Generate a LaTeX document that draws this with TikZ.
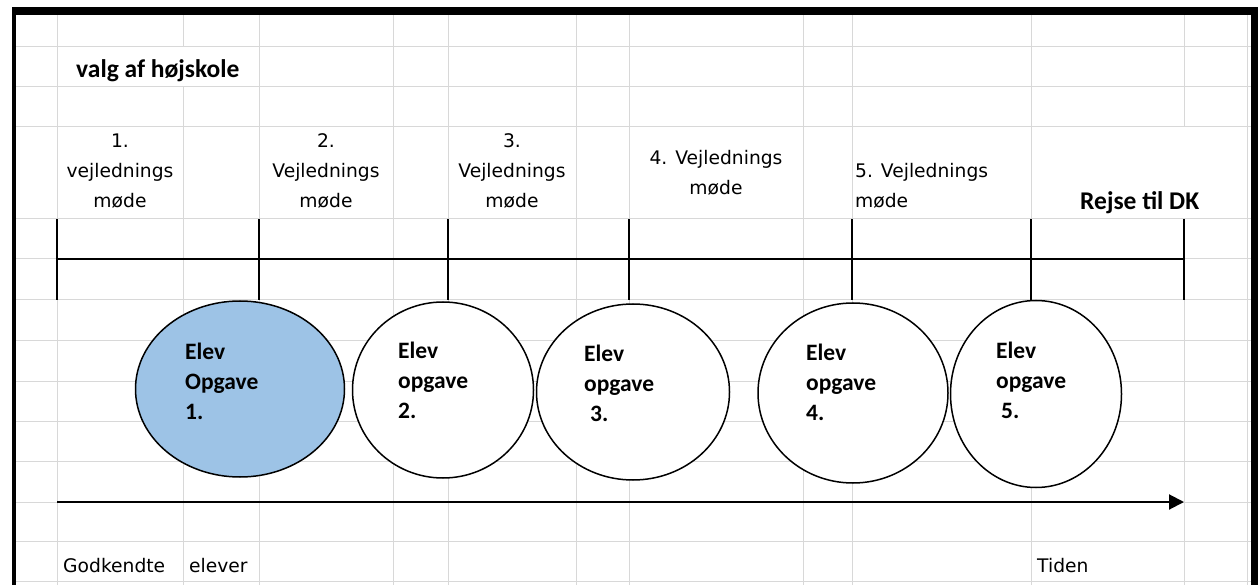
\documentclass[tikz,border=0pt]{standalone}
\usepackage{fontspec}
\setmainfont{Carlito}
\newfontfamily\cellfont{DejaVu Sans}
\usepackage{tikz}
\usepackage{xcolor}
\usetikzlibrary{arrows.meta,shapes.geometric}
\tikzset{>={Triangle[length=15pt,width=15pt]}}
\definecolor{gridgray}{RGB}{216,216,216}
\definecolor{taskblue}{RGB}{157,195,230}
\tikzset{
  gridline/.style={gridgray, line width=1pt},
  cell/.style={font=\cellfont\fontsize{18.7}{30}\selectfont, inner sep=0pt},
  heading/.style={font=\bfseries\fontsize{25.5}{30}\selectfont, inner sep=0pt, anchor=base west},
  task/.style={ellipse, draw, line width=1.5pt, fill=white, inner sep=0pt},
  tasktext/.style={font=\bfseries\fontsize{23.5}{30}\selectfont, align=left, inner sep=0pt, anchor=base west},
}

\begin{document}
\begin{tikzpicture}[x=1pt, y=-1pt]
      \useasboundingbox (0,0) rectangle (1258,585);
      % spreadsheet grid
      \foreach \y in {47,87,127,219,259,300,340,381,421,461,502,541,581}
        \draw[gridline] (16,\y) -- (1251,\y);
      \foreach \x in {57,259,393,448,576,629,803,852,1031,1247}
        \draw[gridline] (\x,15) -- (\x,585);
      \draw[gridline] (183,15) -- (183,47) (183,87) -- (183,585);
      \draw[gridline] (1184,15) -- (1184,127) (1184,219) -- (1184,585);
      % frame
      \fill (12,7) rectangle (1258,15);
      \fill (12,7) rectangle (16,585);
      \fill (1251,7) rectangle (1258,585);
      % time line with meetings
      \coordinate (m0) at (57,259);
      \coordinate (m1) at (259,259);
      \coordinate (m2) at (448,259);
      \coordinate (m3) at (629,259);
      \coordinate (m4) at (852,259);
      \coordinate (m5) at (1031,259);
      \coordinate (m6) at (1184,259);
      \draw[line width=1.8pt] (m0) -- (m6);
      \foreach \m in {m0,m1,m2,m3,m4,m5,m6}
        \draw[line width=1.8pt] (\m) ++(0,-40) -- ++(0,81);
      % tasks
      \node[task, fill=taskblue, minimum width=209pt, minimum height=176pt] (op1) at (240,389) {};
      \node[task, minimum width=181pt, minimum height=176pt] (op2) at (443,390) {};
      \node[task, minimum width=193pt, minimum height=176pt] (op3) at (633,392) {};
      \node[task, minimum width=190pt, minimum height=180pt] (op4) at (853,393) {};
      \node[task, minimum width=171pt, minimum height=187pt] (op5) at (1036,394) {};
      \node[tasktext] (op1txt) at (185,419) {Elev\\Opgave\\1.};
      \node[tasktext] (op2txt) at (398,418) {Elev\\opgave\\2.};
      \node[tasktext] (op3txt) at (584,421) {Elev\\opgave\\\hspace{6pt}3.};
      \node[tasktext] (op4txt) at (806,420) {Elev\\opgave\\4.};
      \node[tasktext] (op5txt) at (996,418) {Elev\\opgave\\\hspace{5pt}5.};
      % time arrow
      \coordinate (a0) at (57,502);
      \coordinate (a1) at (1184,502);
      \draw[->, line width=2pt] (a0) -- (a1);
      % texts
      \node[heading] (valg) at (76,78) {valg af højskole};
      \node[heading] (rejse) at (1080,210) {Rejse til DK};
      \node[cell, align=center, anchor=base] (vm1) at (120,208) {1.\\vejlednings\\møde};
      \node[cell, align=center, anchor=base] (vm2) at (326,208) {2.\\Vejlednings\\møde};
      \node[cell, align=center, anchor=base] (vm3) at (512,208) {3.\\Vejlednings\\møde};
      \node[cell, align=center, anchor=base] (vm4) at (716,195) {4. Vejlednings\\møde};
      \node[cell, align=left, anchor=base west] (vm5) at (855,208) {5. Vejlednings\\møde};
      \node[cell, anchor=base west] (godk) at (63,572) {Godkendte};
      \node[cell, anchor=base west] (elever) at (189,572) {elever};
      \node[cell, anchor=base west] (tiden) at (1037,572) {Tiden};
    \end{tikzpicture}
\end{document}
